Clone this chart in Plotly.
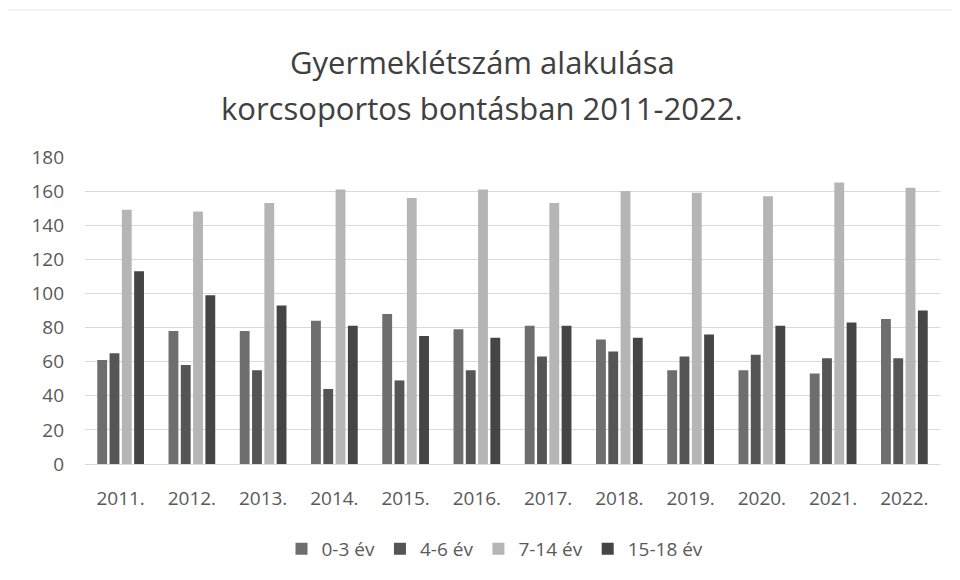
import plotly.graph_objects as go

years = ["2011.", "2012.", "2013.", "2014.", "2015.", "2016.", "2017.", "2018.", "2019.", "2020.", "2021.", "2022."]
age_0_3 = [61, 78, 78, 84, 88, 79, 81, 73, 55, 55, 53, 85]
age_4_6 = [65, 58, 55, 44, 49, 55, 63, 66, 63, 64, 62, 62]
age_7_14 = [149, 148, 153, 161, 156, 161, 153, 160, 159, 157, 165, 162]
age_15_18 = [113, 99, 93, 81, 75, 74, 81, 74, 76, 81, 83, 90]
series_names = ["0-3 év", "4-6 év", "7-14 év", "15-18 év"]
series_values = [age_0_3, age_4_6, age_7_14, age_15_18]
colors = ["#6e6e6e", "#555555", "#b5b5b5", "#454545"]

FONT = "Open Sans"
PH = 307  # plot height in px
PW = 855  # plot width in px
fig = go.Figure()
for name, vals, col in zip(series_names, series_values, colors):
    fig.add_trace(go.Bar(x=years, y=vals, name=name, marker_color=col, marker_line_width=0))

title_x = (482 - 8 - 77) / PW
fig.update_layout(
    width=960, height=580,
    paper_bgcolor="white", plot_bgcolor="white",
    margin=dict(l=77, r=28, t=149, b=124),
    bargap=0.31, bargroupgap=0.2,
    font=dict(family=FONT, color="#595959"),
    showlegend=True,
    legend=dict(orientation="h", x=(495 - 8 - 77) / PW, xanchor="center", y=(464 - 549) / PH, yanchor="middle",
                font=dict(size=19, color="#595959"), itemwidth=30, traceorder="normal"),
    annotations=[
        dict(text="Gyermeklétszám alakulása", xref="paper", yref="paper", x=title_x, y=(464 - 62) / PH,
             xanchor="center", yanchor="middle", showarrow=False, font=dict(size=31, color="#404040", family=FONT)),
        dict(text="korcsoportos bontásban 2011-2022.", xref="paper", yref="paper", x=title_x, y=(464 - 108) / PH,
             xanchor="center", yanchor="middle", showarrow=False, font=dict(size=31, color="#404040", family=FONT)),
    ],
    shapes=[
        dict(type="line", xref="paper", yref="paper", x0=-0.1, x1=1.05, y0=(464 - 10) / PH, y1=(464 - 10) / PH,
             line=dict(color="#e6e6e6", width=1)),
    ],
)
fig.update_yaxes(range=[0, 180], dtick=20, showgrid=True, gridcolor="#d9d9d9", gridwidth=1,
                 zeroline=False, showline=False, ticks="", tickfont=dict(size=19, color="#595959"),
                 ticklabelstandoff=20)
fig.update_xaxes(showgrid=False, showline=True, linecolor="#d9d9d9", ticks="",
                 tickfont=dict(size=19, color="#595959"), ticklabelstandoff=17)

fig.write_html("out.html")
